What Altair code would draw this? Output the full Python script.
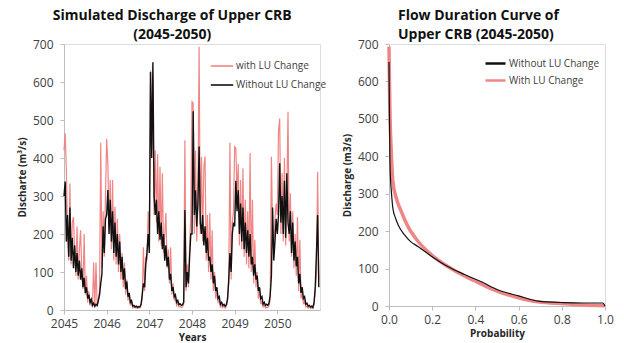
import altair as alt
import pandas as pd

FONT = "Open Sans"
PINK = "#f08585"
BLACK = "#111111"

years = [2045, 2046, 2047, 2048, 2049, 2050]
steps_per_year = 36

# ~10-day discharge values (m3/s), Without LU Change
without_2045 = [300, 338, 180, 250, 140, 270, 130, 190, 110, 170, 100, 150, 90, 130, 80, 110, 60, 85,
                45, 60, 30, 40, 20, 28, 12, 18, 10, 15, 12, 25, 40, 70, 95, 220, 150, 240]
without_2046 = [250, 316, 200, 290, 180, 260, 150, 230, 140, 200, 120, 180, 100, 140, 80, 110, 55, 75,
                35, 45, 20, 25, 10, 12, 8, 10, 7, 9, 8, 15, 40, 70, 60, 120, 150, 200]
without_2047 = [150, 626, 400, 652, 300, 250, 290, 200, 260, 185, 230, 160, 200, 130, 170, 115, 140, 80,
                95, 50, 60, 35, 40, 20, 25, 14, 16, 12, 14, 20, 263, 60, 100, 70, 140, 200]
without_2048 = [200, 523, 250, 315, 220, 280, 430, 230, 200, 250, 170, 220, 150, 190, 130, 140, 100, 120,
                70, 90, 50, 60, 30, 35, 15, 20, 12, 15, 10, 14, 30, 80, 150, 100, 200, 230]
without_2049 = [220, 340, 260, 315, 200, 280, 180, 270, 160, 230, 150, 210, 140, 200, 120, 140, 90, 120,
                80, 90, 50, 60, 30, 35, 15, 20, 12, 15, 12, 18, 40, 90, 270, 130, 180, 240]
without_2050 = [200, 250, 386, 230, 300, 200, 340, 190, 360, 230, 200, 260, 150, 230, 130, 180, 115, 140,
                70, 95, 45, 60, 30, 35, 15, 18, 10, 12, 8, 10, 7, 20, 60, 150, 250, 60]

# ~10-day discharge values (m3/s), with LU Change
with_2045 = [420, 465, 365, 200, 130, 333, 120, 230, 245, 150, 90, 220, 80, 160, 210, 100, 55, 200,
             40, 90, 20, 50, 12, 25, 8, 125, 6, 125, 8, 30, 50, 440, 110, 260, 140, 300]
with_2046 = [450, 386, 220, 342, 160, 342, 130, 272, 120, 240, 100, 200, 80, 150, 60, 125, 40, 80,
             25, 40, 12, 20, 6, 8, 5, 7, 4, 6, 5, 12, 30, 165, 50, 140, 130, 260]
with_2047 = [200, 630, 420, 610, 250, 420, 230, 410, 180, 377, 170, 360, 150, 200, 255, 110, 160, 70,
             165, 40, 70, 25, 35, 12, 18, 8, 10, 6, 8, 15, 447, 50, 120, 60, 170, 250]
with_2048 = [548, 545, 200, 420, 180, 300, 693, 200, 403, 180, 377, 404, 130, 250, 100, 255, 80, 210,
             50, 100, 30, 50, 20, 25, 8, 12, 6, 10, 5, 10, 25, 70, 440, 80, 230, 260]
with_2049 = [430, 426, 300, 385, 170, 342, 160, 373, 140, 290, 120, 260, 110, 413, 100, 290, 70, 185,
             60, 100, 30, 50, 15, 25, 8, 12, 5, 8, 6, 12, 30, 403, 200, 150, 240, 280]
with_2050 = [250, 473, 504, 200, 360, 180, 400, 170, 300, 522, 180, 307, 140, 260, 110, 200, 90, 245,
             50, 185, 30, 50, 15, 25, 8, 10, 5, 8, 4, 6, 4, 15, 50, 100, 364, 80]

# Flow duration curves
fdc_without_p = [0, 0.002, 0.004, 0.007, 0.011, 0.018, 0.03, 0.042, 0.072, 0.10, 0.134, 0.196, 0.27,
                 0.35, 0.43, 0.50, 0.60, 0.69, 0.81, 0.90, 0.99, 1.0]
fdc_without_q = [652, 520, 400, 340, 305, 261, 235, 217, 190, 172, 159, 133, 106, 84, 64, 44, 27, 13,
                 9, 8, 8, 0]
fdc_with_p = [0, 0.002, 0.005, 0.01, 0.018, 0.034, 0.057, 0.088, 0.134, 0.196, 0.27, 0.35, 0.43, 0.50,
              0.60, 0.69, 0.81, 0.90, 1.0]
fdc_with_q = [693, 600, 500, 420, 332, 288, 252, 212, 173, 137, 106, 80, 58, 40, 22, 11, 6, 3, 1]

left_series = ["with LU Change", "Without LU Change"]
right_series = ["Without LU Change", "With LU Change"]

without_all = without_2045 + without_2046 + without_2047 + without_2048 + without_2049 + without_2050
with_all = with_2045 + with_2046 + with_2047 + with_2048 + with_2049 + with_2050
t = [years[0] + i / steps_per_year for i in range(len(without_all))]

df_with = pd.DataFrame({"t": t, "q": with_all, "series": left_series[0]})
df_without = pd.DataFrame({"t": t, "q": without_all, "series": left_series[1]})

df_fdc_without = pd.DataFrame({"p": fdc_without_p, "q": fdc_without_q, "series": right_series[0]})
df_fdc_with = pd.DataFrame({"p": fdc_with_p, "q": fdc_with_q, "series": right_series[1]})

axis_common = dict(
    grid=False, domainColor="#bdbdbd", tickColor="#bdbdbd", tickSize=4, labelFlush=False,
    labelColor="#404040", labelFont=FONT, labelFontSize=12,
    titleFont=FONT, titleFontSize=10, titleFontWeight="bold", titleColor="#262626",
)

# ---- left panel
xl = alt.X("t:Q", scale=alt.Scale(domain=[2045, 2051], nice=False, zero=False),
           axis=alt.Axis(values=years, format="d", title="Years", titlePadding=3, labelPadding=4,
                         **axis_common))
yl = alt.Y("q:Q", scale=alt.Scale(domain=[0, 700], nice=False),
           axis=alt.Axis(values=list(range(0, 701, 100)), title="Discharte (m³/s)", titlePadding=5,
                         labelPadding=7, **axis_common))
color_l = alt.Color("series:N",
                    scale=alt.Scale(domain=left_series, range=[PINK, BLACK]),
                    legend=alt.Legend(title=None, orient="none", legendX=146, legendY=10,
                                      symbolType="stroke", symbolSize=500, symbolStrokeWidth=1.6,
                                      labelFont=FONT, labelFontSize=10, labelColor="#404040",
                                      rowPadding=2, labelOffset=2))

left = alt.layer(
    alt.Chart(df_with).mark_line(strokeWidth=1.2).encode(x=xl, y=yl, color=color_l),
    alt.Chart(df_without).mark_line(strokeWidth=1.4).encode(x=xl, y=yl, color=color_l),
).properties(
    width=256, height=266,
    title=alt.TitleParams(["Simulated Discharge of Upper CRB", "(2045-2050)"], anchor="middle",
                          frame="bounds", font=FONT, fontSize=14, fontWeight="bold",
                          color="#111111", lineHeight=19, offset=-4),
)

# ---- right panel
xr = alt.X("p:Q", scale=alt.Scale(domain=[0, 1], nice=False),
           axis=alt.Axis(values=[0, 0.2, 0.4, 0.6, 0.8, 1.0], format=".1f", title="Probability",
                         titlePadding=3, labelPadding=4, **axis_common))
yr = alt.Y("q:Q", scale=alt.Scale(domain=[0, 700], nice=False),
           axis=alt.Axis(values=list(range(0, 701, 100)), title="Discharge (m3/s)", titlePadding=5,
                         labelPadding=7, **axis_common))
color_r = alt.Color("series:N",
                    scale=alt.Scale(domain=right_series, range=[BLACK, PINK]),
                    legend=alt.Legend(title=None, orient="none", legendX=95, legendY=8,
                                      symbolType="stroke", symbolSize=400, symbolStrokeWidth=2.5,
                                      labelFont=FONT, labelFontSize=10, labelColor="#404040",
                                      rowPadding=0, labelOffset=2))

right = alt.layer(
    alt.Chart(df_fdc_with).mark_line(strokeWidth=3.5, interpolate="monotone").encode(x=xr, y=yr, color=color_r),
    alt.Chart(df_fdc_without).mark_line(strokeWidth=1.2, interpolate="monotone").encode(x=xr, y=yr, color=color_r),
).properties(
    width=216, height=262,
    title=alt.TitleParams(["Flow Duration Curve of", "Upper CRB (2045-2050)"], anchor="start",
                          frame="group", font=FONT, fontSize=14, fontWeight="bold",
                          color="#111111", lineHeight=19, offset=-4, dx=9),
)

chart = alt.hconcat(left, right, spacing=13).resolve_scale(color="independent").properties(
    padding={"left": 16, "top": 8, "right": 5, "bottom": 0}
).configure_view(stroke=None).configure(background="white")

chart.save("out.html", embed_options={"renderer": "svg", "actions": False})
